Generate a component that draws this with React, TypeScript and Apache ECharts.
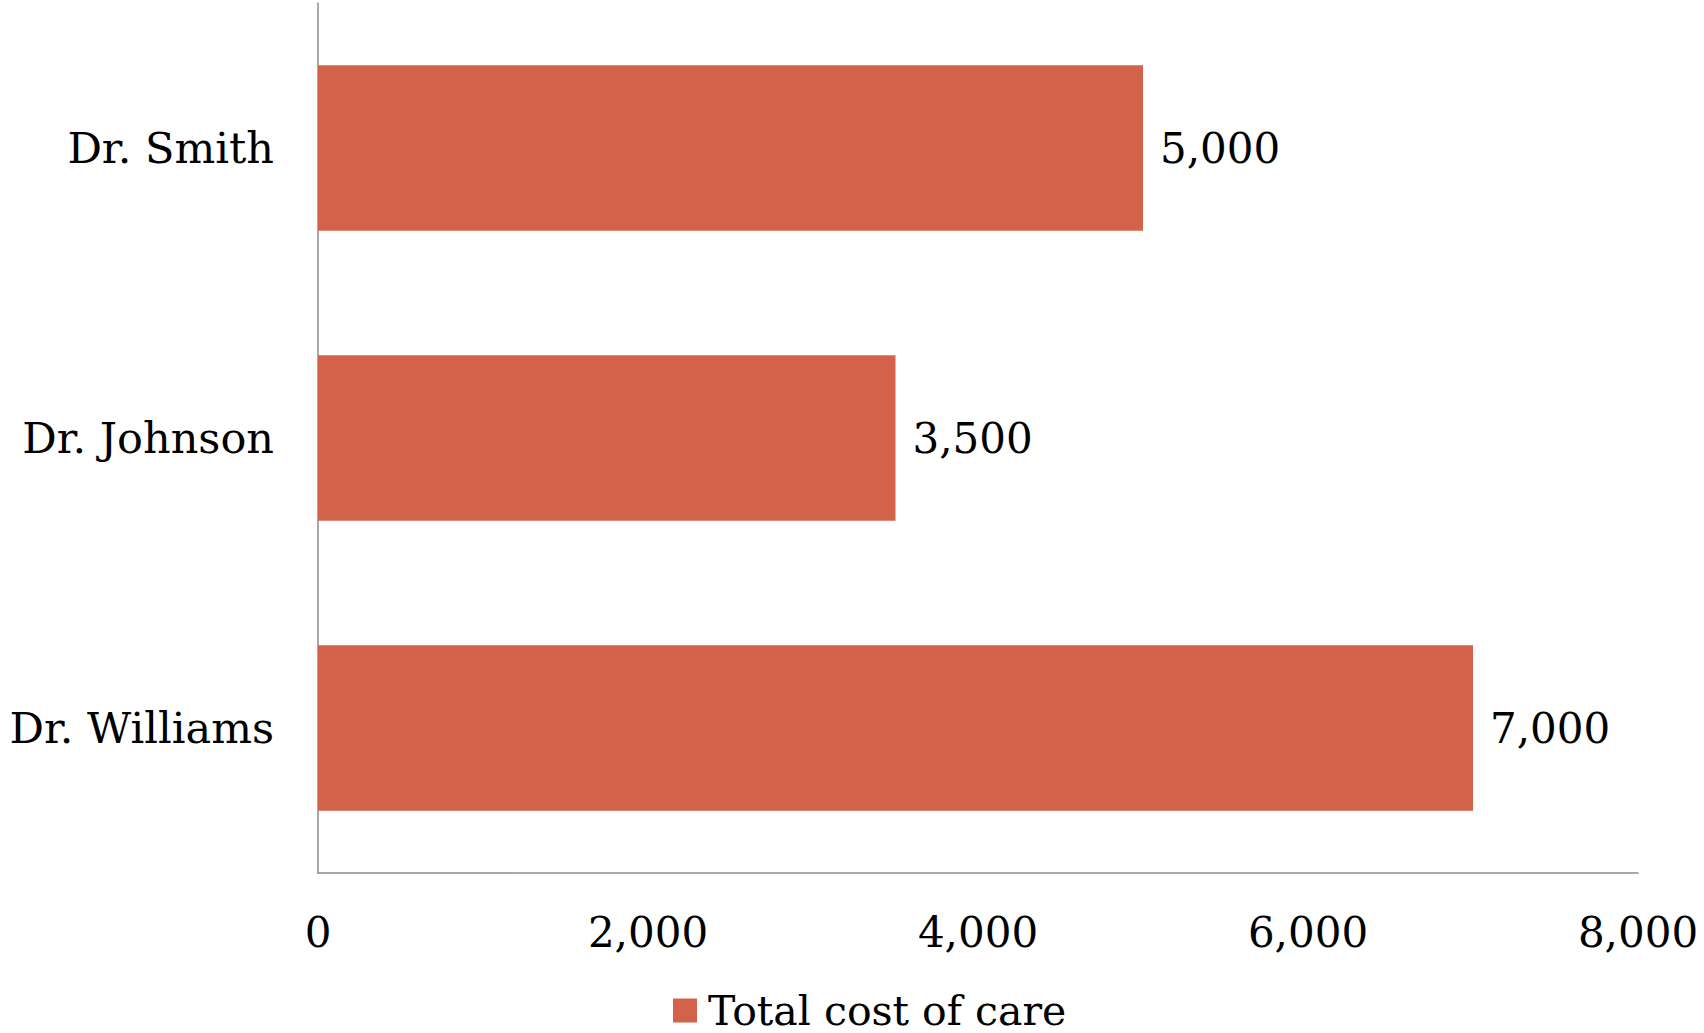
import React, { useEffect, useRef } from "react";
import * as echarts from "echarts";

const categories = ["Dr. Smith", "Dr. Johnson", "Dr. Williams"];
const values = [5000, 3500, 7000];
const seriesName = "Total cost of care";
const xTicks = { min: 0, max: 8000, interval: 2000 };

const FONT = "DejaVu Serif";
const fmt = (v: number) => v.toLocaleString("en-US");

export default function App() {
  const ref = useRef<HTMLDivElement>(null);
  useEffect(() => {
    if (!ref.current) return;
    const chart = echarts.init(ref.current, undefined, { renderer: "svg" });
    chart.setOption({
      animation: false,
      backgroundColor: "#ffffff",
      grid: { left: 318, right: 66, top: 3, bottom: 160, containLabel: false },
      legend: {
        data: [seriesName],
        left: 668,
        top: 985,
        itemWidth: 24,
        itemHeight: 24,
        itemGap: 10,
        icon: "rect",
        textStyle: { fontFamily: FONT, fontSize: 41, color: "#000", padding: [0, 0, 0, 6] },
      },
      xAxis: {
        type: "value",
        min: xTicks.min,
        max: xTicks.max,
        interval: xTicks.interval,
        axisLine: { show: true, lineStyle: { color: "#8c8c8c", width: 1.5 } },
        axisTick: { show: false },
        splitLine: { show: false },
        axisLabel: {
          margin: 38,
          fontFamily: FONT,
          fontSize: 42,
          color: "#000",
          formatter: (v: number) => fmt(v),
        },
      },
      yAxis: {
        type: "category",
        data: categories,
        inverse: true,
        axisLine: { show: true, lineStyle: { color: "#8c8c8c", width: 1.5 } },
        axisTick: { show: false },
        axisLabel: { margin: 44, fontFamily: FONT, fontSize: 43, color: "#000" },
      },
      series: [
        {
          name: seriesName,
          type: "bar",
          data: values,
          barCategoryGap: "43%",
          itemStyle: { color: "#D2634A" },
          label: {
            show: true,
            position: "right",
            distance: 17,
            fontFamily: FONT,
            fontSize: 42,
            color: "#000",
            formatter: (p: any) => fmt(p.value),
          },
        },
      ],
    });
    return () => chart.dispose();
  }, []);
  return (
    <div
      ref={ref}
      style={{ position: "fixed", left: 0, top: 0, width: 1704, height: 1033 }}
    />
  );
}
